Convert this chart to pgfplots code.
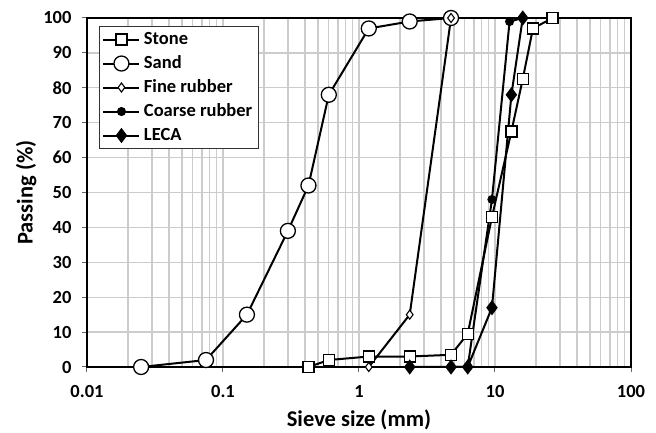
\documentclass[border=0pt]{standalone}
\usepackage{fontspec}
\setmainfont{Carlito}
\usepackage{pgfplots}
\pgfplotsset{compat=1.18}

\begin{document}
\begin{tikzpicture}
  \begin{semilogxaxis}[
    scale only axis,
    width=544pt, height=349pt,
    xmin=0.01, xmax=100,
    ymin=0, ymax=100,
    xtick={0.01,0.1,1,10,100},
    xticklabels={0.01,0.1,1,10,100},
    minor xtick={0.02,0.03,0.04,0.05,0.06,0.07,0.08,0.09,
                 0.2,0.3,0.4,0.5,0.6,0.7,0.8,0.9,
                 2,3,4,5,6,7,8,9,20,30,40,50,60,70,80,90},
    ytick={0,10,...,100},
    xmajorgrids, xminorgrids, ymajorgrids,
    grid style={gray!40, line width=1.3pt},
    minor grid style={gray!40, line width=1.3pt},
    axis line style={line width=2.6pt},
    tick style={black!60, line width=1pt},
    major tick length=5pt, minor tick length=0pt,
    tick align=outside, tick pos=left,
    /pgf/number format/assume math mode=true,
    ticklabel style={font=\fontsize{18.5}{18.5}\selectfont\bfseries},
    xticklabel shift=10pt, yticklabel shift=7pt,
    xlabel={Sieve size (mm)},
    ylabel={Passing (\%)},
    label style={font=\fontsize{22.5}{22.5}\selectfont\bfseries},
    xlabel style={at={(axis description cs:0.5,-0.152)}, anchor=center},
    ylabel style={at={(axis description cs:-0.112,0.5)}, anchor=center},
    clip=false,
    legend cell align=left,
    legend style={at={(0.022,0.977)}, anchor=north west, draw=black!80,
      line width=1pt, font=\fontsize{18.5}{22}\selectfont\bfseries,
      inner xsep=3pt, inner ysep=1pt, row sep=0pt,
      nodes={inner sep=3.5pt, text height=13pt, text depth=4pt}},
    legend image code/.code={
      \draw[mark repeat=2, mark phase=2, #1]
        plot coordinates {(0pt,0pt) (18pt,0pt) (36pt,0pt)};},
    every axis plot/.append style={line width=2pt, black},
  ]
    % Stone
    \addplot[mark=square*, mark size=5.5pt,
      mark options={fill=white, line width=1.3pt}]
      coordinates {(0.425,0) (0.6,2) (1.18,3) (2.36,3) (4.75,3.5) (6.3,9.5)
                   (9.5,43) (13.2,67.5) (16,82.5) (19,97) (26.5,100)};
    % Sand
    \addplot[mark=*, mark size=7.5pt,
      mark options={fill=white, line width=1.3pt}]
      coordinates {(0.025,0) (0.075,2) (0.15,15) (0.3,39) (0.425,52)
                   (0.6,78) (1.18,97) (2.36,99) (4.75,100)};
    % Fine rubber
    \addplot[mark=diamond*, mark size=4.5pt,
      mark options={fill=white, line width=1.1pt}]
      coordinates {(1.18,0) (2.36,15) (4.75,100)};
    % Coarse rubber
    \addplot[mark=*, mark size=3.5pt, mark options={fill=black}]
      coordinates {(4.75,0) (6.3,0) (9.5,48) (12.8,99) (16,100)};
    % LECA
    \addplot[mark=diamond*, mark size=6pt, mark options={fill=black}]
      coordinates {(2.36,0) (4.75,0) (6.3,0) (9.5,17) (13.2,78) (16,100)};
    \legend{Stone, Sand, Fine rubber, Coarse rubber, LECA}
  \end{semilogxaxis}
  \pgfresetboundingbox
  \path[use as bounding box] (-87pt,-66pt) rectangle (569pt,367pt);
\end{tikzpicture}
\end{document}
